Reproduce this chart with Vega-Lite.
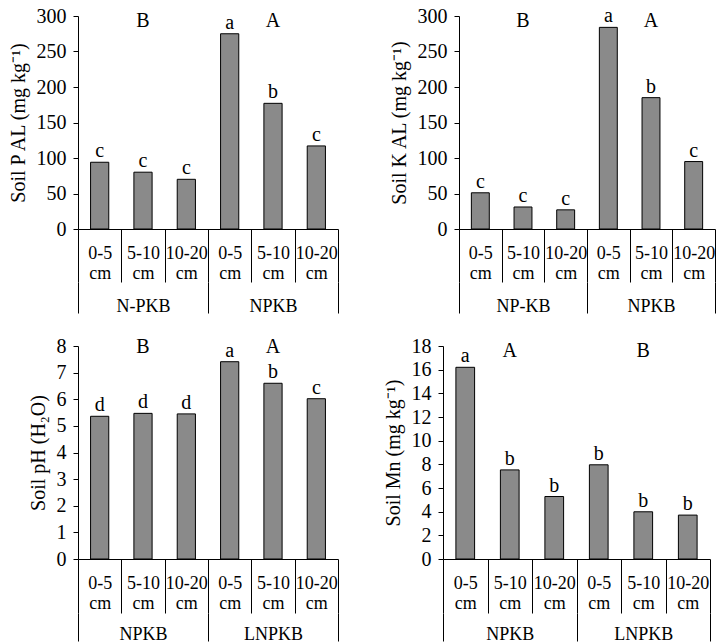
{
  "$schema": "https://vega.github.io/schema/vega-lite/v6.json",
  "padding": {"left": 8, "top": 6, "right": 0, "bottom": 0},
  "autosize": {"type": "pad"},
  "datasets": {
    "pal": [
      {"bar": "N-PKB|0-5", "value": 94, "letter": "c"},
      {"bar": "N-PKB|5-10", "value": 80, "letter": "c"},
      {"bar": "N-PKB|10-20", "value": 70, "letter": "c"},
      {"bar": "NPKB|0-5", "value": 275, "letter": "a"},
      {"bar": "NPKB|5-10", "value": 177, "letter": "b"},
      {"bar": "NPKB|10-20", "value": 117, "letter": "c"}
    ],
    "pal_g": [
      {"treatment": "N-PKB", "grade": "B"},
      {"treatment": "NPKB", "grade": "A"}
    ],
    "kal": [
      {"bar": "NP-KB|0-5", "value": 51, "letter": "c"},
      {"bar": "NP-KB|5-10", "value": 31, "letter": "c"},
      {"bar": "NP-KB|10-20", "value": 27, "letter": "c"},
      {"bar": "NPKB|0-5", "value": 284, "letter": "a"},
      {"bar": "NPKB|5-10", "value": 185, "letter": "b"},
      {"bar": "NPKB|10-20", "value": 95, "letter": "c"}
    ],
    "kal_g": [
      {"treatment": "NP-KB", "grade": "B"},
      {"treatment": "NPKB", "grade": "A"}
    ],
    "ph": [
      {"bar": "NPKB|0-5", "value": 5.36, "letter": "d"},
      {"bar": "NPKB|5-10", "value": 5.47, "letter": "d"},
      {"bar": "NPKB|10-20", "value": 5.45, "letter": "d"},
      {"bar": "LNPKB|0-5", "value": 7.41, "letter": "a"},
      {"bar": "LNPKB|5-10", "value": 6.6, "letter": "b"},
      {"bar": "LNPKB|10-20", "value": 6.02, "letter": "c"}
    ],
    "ph_g": [
      {"treatment": "NPKB", "grade": "B"},
      {"treatment": "LNPKB", "grade": "A"}
    ],
    "mn": [
      {"bar": "NPKB|0-5", "value": 16.2, "letter": "a"},
      {"bar": "NPKB|5-10", "value": 7.53, "letter": "b"},
      {"bar": "NPKB|10-20", "value": 5.28, "letter": "b"},
      {"bar": "LNPKB|0-5", "value": 7.96, "letter": "b"},
      {"bar": "LNPKB|5-10", "value": 3.99, "letter": "b"},
      {"bar": "LNPKB|10-20", "value": 3.71, "letter": "b"}
    ],
    "mn_g": [
      {"treatment": "NPKB", "grade": "A"},
      {"treatment": "LNPKB", "grade": "B"}
    ]
  },
  "vconcat": [
    {
      "spacing": 50,
      "hconcat": [
        {
          "width": 260, "height": 213,
          "layer": [
            {
              "data": {"name": "pal"},
              "mark": {"type": "bar", "width": {"band": 0.42}, "fill": "#8a8a8a", "stroke": "black", "strokeWidth": 1},
              "encoding": {
                "x": {"field": "bar", "type": "nominal", "sort": null, "scale": {"paddingInner": 0, "paddingOuter": 0},
                  "axis": {"title": null, "orient": "bottom", "tickBand": "extent", "tickSize": 53, "labelPadding": -38, "labelAngle": 0, "labelLineHeight": 20, "labelOverlap": false, "labelExpr": "length(split(datum.value + '', '|')) > 1 ? [split(datum.value, '|')[1], 'cm'] : ''"}},
                "y": {"field": "value", "type": "quantitative", "scale": {"domain": [0, 300], "nice": false},
                  "axis": {"title": "Soil P AL (mg kg⁻¹)", "values": [0, 50, 100, 150, 200, 250, 300]}}
              }
            },
            {
              "data": {"name": "pal"},
              "mark": {"type": "text", "baseline": "alphabetic", "dy": -5, "fontSize": 20},
              "encoding": {
                "x": {"field": "bar", "type": "nominal", "sort": null, "scale": {"paddingInner": 0, "paddingOuter": 0}, "axis": null},
                "y": {"field": "value", "type": "quantitative",
                  "axis": {"title": "Soil P AL (mg kg⁻¹)", "values": [0, 50, 100, 150, 200, 250, 300]}},
                "text": {"field": "letter"}
              }
            },
            {
              "data": {"name": "pal_g"},
              "mark": {"type": "text", "baseline": "alphabetic", "fontSize": 20},
              "encoding": {
                "x": {"field": "treatment", "type": "nominal", "sort": null, "scale": {"paddingInner": 0, "paddingOuter": 0},
                  "axis": {"title": null, "orient": "bottom", "offset": 53, "tickBand": "extent", "tickSize": 31, "domain": false, "labelPadding": -16, "labelAngle": 0}},
                "y": {"datum": 284, "type": "quantitative",
                  "axis": {"title": "Soil P AL (mg kg⁻¹)", "values": [0, 50, 100, 150, 200, 250, 300]}},
                "text": {"field": "grade"}
              }
            }
          ],
          "resolve": {"scale": {"x": "independent"}, "axis": {"x": "independent"}}
        },
        {
          "width": 256, "height": 213,
          "layer": [
            {
              "data": {"name": "kal"},
              "mark": {"type": "bar", "width": {"band": 0.42}, "fill": "#8a8a8a", "stroke": "black", "strokeWidth": 1},
              "encoding": {
                "x": {"field": "bar", "type": "nominal", "sort": null, "scale": {"paddingInner": 0, "paddingOuter": 0},
                  "axis": {"title": null, "orient": "bottom", "tickBand": "extent", "tickSize": 53, "labelPadding": -38, "labelAngle": 0, "labelLineHeight": 20, "labelOverlap": false, "labelExpr": "length(split(datum.value + '', '|')) > 1 ? [split(datum.value, '|')[1], 'cm'] : ''"}},
                "y": {"field": "value", "type": "quantitative", "scale": {"domain": [0, 300], "nice": false},
                  "axis": {"title": "Soil K AL (mg kg⁻¹)", "values": [0, 50, 100, 150, 200, 250, 300]}}
              }
            },
            {
              "data": {"name": "kal"},
              "mark": {"type": "text", "baseline": "alphabetic", "dy": -5, "fontSize": 20},
              "encoding": {
                "x": {"field": "bar", "type": "nominal", "sort": null, "scale": {"paddingInner": 0, "paddingOuter": 0}, "axis": null},
                "y": {"field": "value", "type": "quantitative",
                  "axis": {"title": "Soil K AL (mg kg⁻¹)", "values": [0, 50, 100, 150, 200, 250, 300]}},
                "text": {"field": "letter"}
              }
            },
            {
              "data": {"name": "kal_g"},
              "mark": {"type": "text", "baseline": "alphabetic", "fontSize": 20},
              "encoding": {
                "x": {"field": "treatment", "type": "nominal", "sort": null, "scale": {"paddingInner": 0, "paddingOuter": 0},
                  "axis": {"title": null, "orient": "bottom", "offset": 53, "tickBand": "extent", "tickSize": 31, "domain": false, "labelPadding": -16, "labelAngle": 0}},
                "y": {"datum": 284, "type": "quantitative",
                  "axis": {"title": "Soil K AL (mg kg⁻¹)", "values": [0, 50, 100, 150, 200, 250, 300]}},
                "text": {"field": "grade"}
              }
            }
          ],
          "resolve": {"scale": {"x": "independent"}, "axis": {"x": "independent"}}
        }
      ]
    },
    {
      "spacing": 44,
      "hconcat": [
        {
          "width": 260, "height": 213,
          "layer": [
            {
              "data": {"name": "ph"},
              "mark": {"type": "bar", "width": {"band": 0.42}, "fill": "#8a8a8a", "stroke": "black", "strokeWidth": 1},
              "encoding": {
                "x": {"field": "bar", "type": "nominal", "sort": null, "scale": {"paddingInner": 0, "paddingOuter": 0},
                  "axis": {"title": null, "orient": "bottom", "tickBand": "extent", "tickSize": 54, "labelPadding": -39, "labelAngle": 0, "labelLineHeight": 20, "labelOverlap": false, "labelExpr": "length(split(datum.value + '', '|')) > 1 ? [split(datum.value, '|')[1], 'cm'] : ''"}},
                "y": {"field": "value", "type": "quantitative", "scale": {"domain": [0, 8], "nice": false},
                  "axis": {"title": "Soil pH (H₂O)", "values": [0, 1, 2, 3, 4, 5, 6, 7, 8]}}
              }
            },
            {
              "data": {"name": "ph"},
              "mark": {"type": "text", "baseline": "alphabetic", "dy": -5, "fontSize": 20},
              "encoding": {
                "x": {"field": "bar", "type": "nominal", "sort": null, "scale": {"paddingInner": 0, "paddingOuter": 0}, "axis": null},
                "y": {"field": "value", "type": "quantitative",
                  "axis": {"title": "Soil pH (H₂O)", "values": [0, 1, 2, 3, 4, 5, 6, 7, 8]}},
                "text": {"field": "letter"}
              }
            },
            {
              "data": {"name": "ph_g"},
              "mark": {"type": "text", "baseline": "alphabetic", "fontSize": 20},
              "encoding": {
                "x": {"field": "treatment", "type": "nominal", "sort": null, "scale": {"paddingInner": 0, "paddingOuter": 0},
                  "axis": {"title": null, "orient": "bottom", "offset": 54, "tickBand": "extent", "tickSize": 28, "domain": false, "labelPadding": -16, "labelAngle": 0}},
                "y": {"datum": 7.74, "type": "quantitative",
                  "axis": {"title": "Soil pH (H₂O)", "values": [0, 1, 2, 3, 4, 5, 6, 7, 8]}},
                "text": {"field": "grade"}
              }
            }
          ],
          "resolve": {"scale": {"x": "independent"}, "axis": {"x": "independent"}}
        },
        {
          "width": 267, "height": 213,
          "layer": [
            {
              "data": {"name": "mn"},
              "mark": {"type": "bar", "width": {"band": 0.42}, "fill": "#8a8a8a", "stroke": "black", "strokeWidth": 1},
              "encoding": {
                "x": {"field": "bar", "type": "nominal", "sort": null, "scale": {"paddingInner": 0, "paddingOuter": 0},
                  "axis": {"title": null, "orient": "bottom", "tickBand": "extent", "tickSize": 54, "labelPadding": -39, "labelAngle": 0, "labelLineHeight": 20, "labelOverlap": false, "labelExpr": "length(split(datum.value + '', '|')) > 1 ? [split(datum.value, '|')[1], 'cm'] : ''"}},
                "y": {"field": "value", "type": "quantitative", "scale": {"domain": [0, 18], "nice": false},
                  "axis": {"title": "Soil Mn (mg kg⁻¹)", "values": [0, 2, 4, 6, 8, 10, 12, 14, 16, 18]}}
              }
            },
            {
              "data": {"name": "mn"},
              "mark": {"type": "text", "baseline": "alphabetic", "dy": -5, "fontSize": 20},
              "encoding": {
                "x": {"field": "bar", "type": "nominal", "sort": null, "scale": {"paddingInner": 0, "paddingOuter": 0}, "axis": null},
                "y": {"field": "value", "type": "quantitative",
                  "axis": {"title": "Soil Mn (mg kg⁻¹)", "values": [0, 2, 4, 6, 8, 10, 12, 14, 16, 18]}},
                "text": {"field": "letter"}
              }
            },
            {
              "data": {"name": "mn_g"},
              "mark": {"type": "text", "baseline": "alphabetic", "fontSize": 20},
              "encoding": {
                "x": {"field": "treatment", "type": "nominal", "sort": null, "scale": {"paddingInner": 0, "paddingOuter": 0},
                  "axis": {"title": null, "orient": "bottom", "offset": 54, "tickBand": "extent", "tickSize": 28, "domain": false, "labelPadding": -16, "labelAngle": 0}},
                "y": {"datum": 17.1, "type": "quantitative",
                  "axis": {"title": "Soil Mn (mg kg⁻¹)", "values": [0, 2, 4, 6, 8, 10, 12, 14, 16, 18]}},
                "text": {"field": "grade"}
              }
            }
          ],
          "resolve": {"scale": {"x": "independent"}, "axis": {"x": "independent"}}
        }
      ]
    }
  ],
  "spacing": 21,
  "config": {
    "font": "Liberation Serif",
    "view": {"stroke": null},
    "text": {"font": "Liberation Serif", "color": "black"},
    "axis": {
      "grid": false,
      "domainColor": "black",
      "tickColor": "black",
      "labelColor": "black",
      "titleColor": "black",
      "labelFont": "Liberation Serif",
      "titleFont": "Liberation Serif",
      "labelFontSize": 18,
      "titleFontSize": 20,
      "titleFontWeight": "normal",
      "labelFlush": false,
      "minExtent": 0
    },
    "axisY": {"tickSize": 5, "labelPadding": 7, "labelFontSize": 20, "titlePadding": 8, "minExtent": 0}
  }
}
